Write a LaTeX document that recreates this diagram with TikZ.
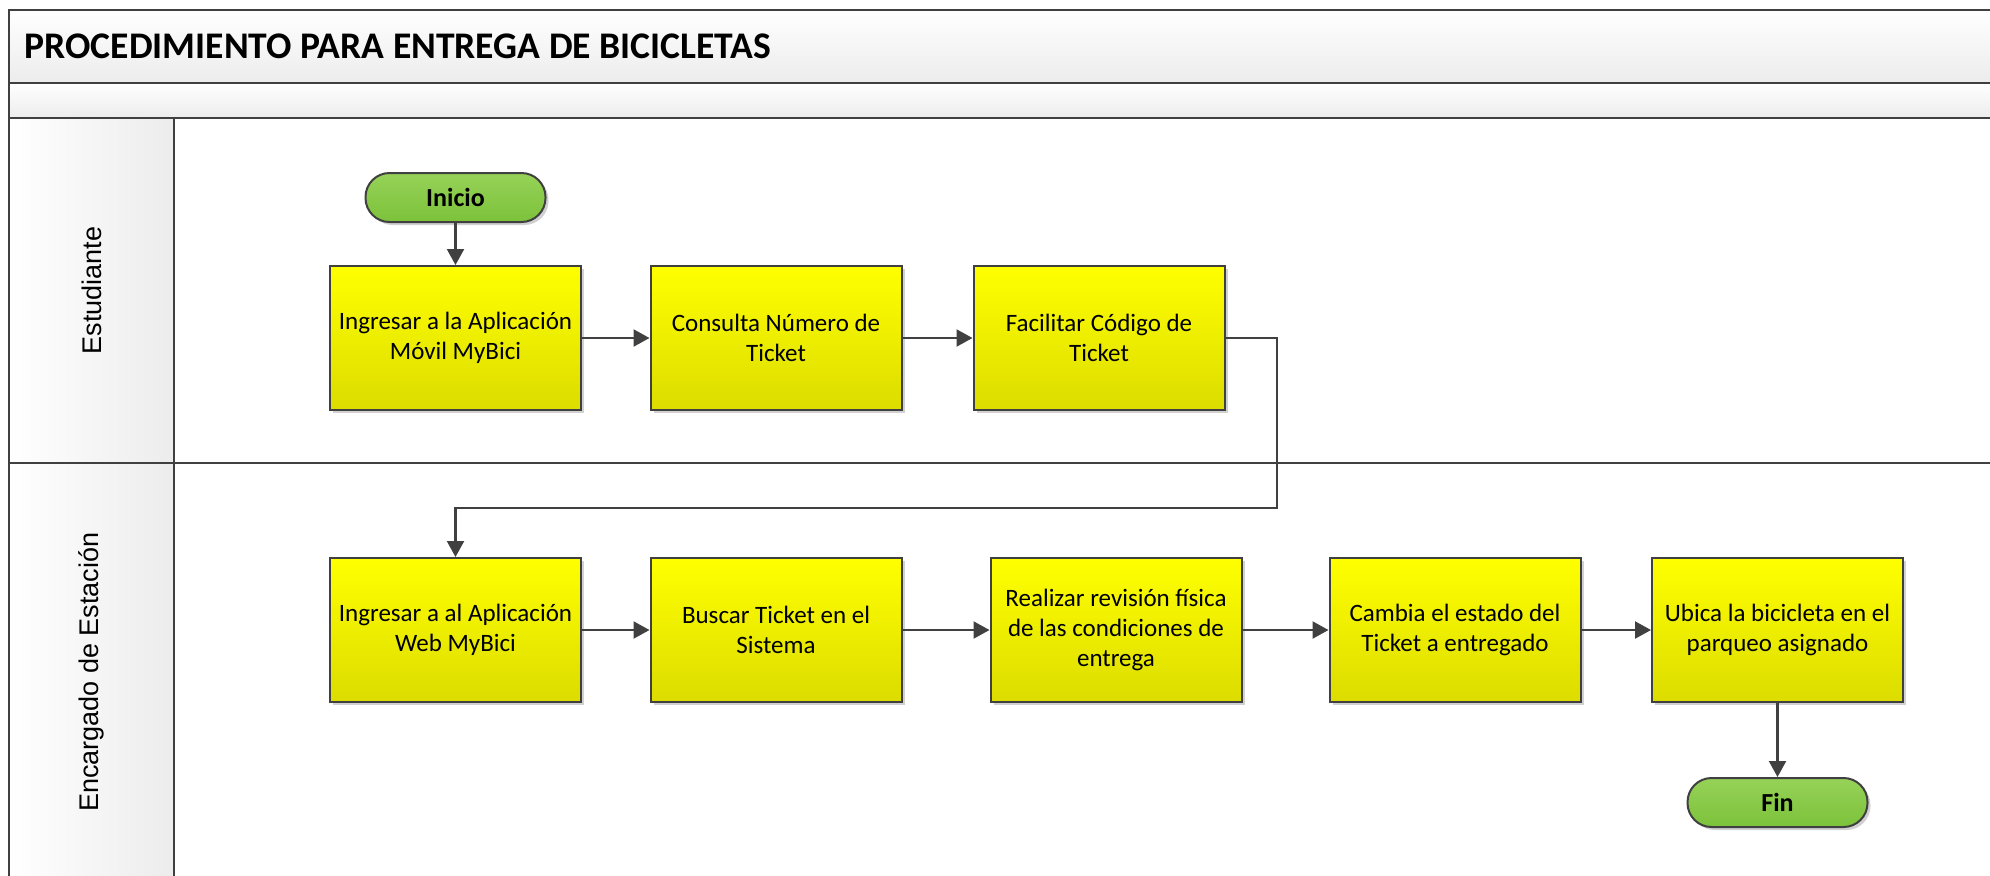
\documentclass[tikz,border=0pt]{standalone}
\usepackage{fontspec}
\setmainfont{Carlito}
\newfontfamily\carrilfont{Liberation Sans}
\usetikzlibrary{arrows.meta,shadows}
\definecolor{linea}{HTML}{404040}
\definecolor{amarilloA}{HTML}{FFFF00}
\definecolor{amarilloB}{HTML}{DCDC00}
\definecolor{verdeA}{HTML}{96D258}
\definecolor{verdeB}{HTML}{7CC23A}
\definecolor{franja}{HTML}{ECECEC}

\begin{document}
\begin{tikzpicture}[x=0.5pt, y=-0.5pt, >={Triangle[length=8pt,width=8.5pt]},
                    line width=1pt]
  \tikzstyle{tarea}=[rectangle, draw=linea, top color=amarilloA, bottom color=amarilloB,
                     minimum width=125.5pt, minimum height=72pt, inner sep=2pt,
                     align=center, font=\fontsize{12.5}{15}\selectfont,
                     drop shadow={shadow xshift=1.5pt, shadow yshift=-1.5pt, opacity=0.18, fill=black}]
  \tikzstyle{limite}=[rectangle, rounded corners=12pt, draw=linea, top color=verdeA,
                      bottom color=verdeB, minimum width=90pt, minimum height=24.5pt,
                      font=\bfseries\fontsize{13}{15}\selectfont,
                      drop shadow={shadow xshift=1.5pt, shadow yshift=-1.5pt, opacity=0.18, fill=black}]
  \tikzstyle{banda}=[top color=white, bottom color=franja, draw=linea]
  \tikzstyle{carril}=[left color=white, right color=franja, draw=linea]

  \useasboundingbox (0,0) rectangle (1990,875);
  \clip (0,0) rectangle (1990,875);

  % marco
  \shade[banda] (9,10) rectangle (2000,82.5);
  \shade[banda] (9,82.5) rectangle (2000,118);
  \draw[linea] (9,118) rectangle (2000,463);
  \draw[linea] (9,463) rectangle (2000,890);
  \shade[carril] (9,118) rectangle (174,463);
  \shade[carril] (9,463) rectangle (174,890);

  \node[anchor=west, font=\bfseries\fontsize{18.8}{22}\selectfont] (titulo) at (17,46)
        {PROCEDIMIENTO PARA ENTREGA DE BICICLETAS};
  \node[rotate=90, font=\carrilfont\fontsize{13.5}{16}\selectfont] (est) at (91.5,290.5) {Estudiante};
  \node[rotate=90, font=\carrilfont\fontsize{13.5}{16}\selectfont] (enc) at (91.5,672) {Encargado de Estación};

  % pasos
  \node[limite]  (0) at (455.5,197.5)                  {Inicio};
  \node[tarea]   (1) [below of=0, node distance=70.25pt] {Ingresar a la Aplicación\\Móvil MyBici};
  \node[tarea]   (2) [right of=1, node distance=160.25pt] {Consulta Número de\\Ticket};
  \node[tarea]   (3) [right of=2, node distance=161.5pt] {Facilitar Código de\\Ticket};
  \node[tarea]   (4) [below of=1, node distance=146pt]   {Ingresar a al Aplicación\\Web MyBici};
  \node[tarea]   (5) [right of=4, node distance=160.25pt] {Buscar Ticket en el\\Sistema};
  \node[tarea]   (6) [right of=5, node distance=170pt]   {Realizar revisión física\\de las condiciones de\\entrega};
  \node[tarea]   (7) [right of=6, node distance=169.5pt] {Cambia el estado del\\Ticket a entregado};
  \node[tarea]   (8) [right of=7, node distance=161.25pt] {Ubica la bicicleta en el\\parqueo asignado};
  \node[limite]  (9) [below of=8, node distance=86.25pt] {Fin};

  \coordinate (giro) at (1277,508);

  \path[->, color=linea, line width=1.1pt]
        (0) edge (1)
        (1) edge (2)
        (2) edge (3)
        (4) edge (5)
        (5) edge (6)
        (6) edge (7)
        (7) edge (8)
        (8) edge (9);
  \draw[->, color=linea, line width=1.1pt] (3) -| (giro) -| (4);

\end{tikzpicture}
\end{document}
